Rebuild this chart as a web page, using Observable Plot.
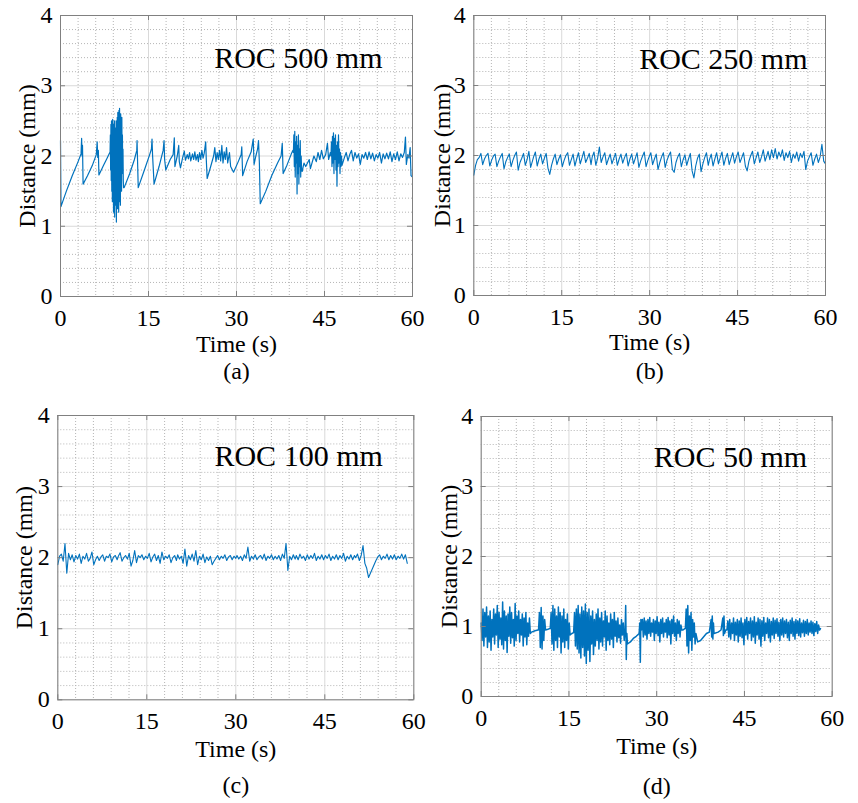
<!DOCTYPE html>
<html><head><meta charset="utf-8">
<script src="https://cdn.jsdelivr.net/npm/d3@7"></script>
<script src="https://cdn.jsdelivr.net/npm/@observablehq/plot@0.6"></script>
<style>
body{margin:0;background:#fff;}
#fig{position:relative;width:858px;height:803px;background:#fff;overflow:hidden;}
#fig svg{position:absolute;}
</style></head><body><div id="fig"></div>
<script>
// ---------- axis ticks ----------
const xTicks = [0, 15, 30, 45, 60];
const yTicks = [0, 1, 2, 3, 4];
const xMinorTicks = [3, 6, 9, 12, 18, 21, 24, 27, 33, 36, 39, 42, 48, 51, 54, 57];
const yMinorTicks = [0.2, 0.4, 0.6, 0.8, 1.2, 1.4, 1.6, 1.8, 2.2, 2.4, 2.6, 2.8, 3.2, 3.4, 3.6, 3.8];

// ---------- data: [t, y] points, or {t0, t1, v} evenly sampled runs ----------
// (a) ROC 500 mm
const roc500 = [
  [0, 2.22], [0.08, 1.28], [1.0, 1.5], [2.0, 1.72], [3.0, 1.92], [3.5, 2.03], [3.6, 2.25], [3.68, 2.0], [3.75, 2.15], [3.85, 1.6],
  [4.6, 1.72], [5.4, 1.86], [6.1, 2.02], [6.25, 2.2], [6.35, 1.98], [6.45, 2.08], [6.55, 1.73],
  [7.3, 1.86], [8.0, 1.98], [8.4, 2.05],
  {t0: 8.45, t1: 10.75, v: [2.05, 2.3, 1.8, 2.45, 1.65, 2.5, 1.5, 2.4, 1.35, 2.52, 1.6, 2.3, 1.2, 2.45, 1.45, 2.5, 1.13, 2.35, 1.55, 2.4,
    1.3, 2.5, 1.06, 2.3, 1.4, 2.55, 1.25, 2.62, 1.5, 2.45, 1.2, 2.65, 1.35, 2.68, 1.6, 2.5, 1.3, 2.6, 1.7, 2.4,
    1.5, 2.55, 1.75, 2.3, 1.8, 2.1, 1.65, 1.55]},
  [10.85, 1.55], [11.8, 1.75], [12.6, 1.95], [13.0, 2.08], [13.05, 2.22], [13.12, 1.98], [13.25, 1.55],
  [14.3, 1.8], [15.2, 2.02], [15.5, 2.1], [15.6, 2.24], [15.7, 2.0], [15.95, 1.6],
  [16.8, 1.85], [17.5, 2.08], [17.65, 2.22], [17.75, 1.95], [17.95, 1.8],
  [18.7, 1.95], [19.2, 2.02], [19.4, 2.26], [19.5, 1.85], [19.9, 2.0], [20.15, 2.15], [20.25, 1.92], [20.45, 1.83],
  [20.8, 1.97], [21.1, 2.07], [21.3, 1.94], [21.6, 2.02], [21.8, 1.96], [22.0, 2.05], [22.2, 1.93], [22.5, 2.03], [22.7, 1.95],
  [22.9, 2.06], [23.1, 1.94], [23.35, 2.02], [23.5, 1.92], [23.7, 2.05], [23.9, 1.95], [24.1, 2.08], [24.3, 1.97], [24.5, 2.04],
  [24.75, 2.2], [24.85, 1.95], [25.0, 1.68],
  [25.6, 1.85], [26.1, 2.0], [26.3, 2.12], [26.5, 1.92], [26.7, 2.05], [26.9, 1.95], [27.1, 2.08], [27.3, 1.93], [27.5, 2.15],
  [27.7, 1.9], [27.9, 2.06], [28.1, 1.95], [28.3, 2.12], [28.5, 1.9], [28.8, 2.05], [29.0, 1.85], [29.5, 1.77],
  [30.3, 1.92], [30.8, 2.02], [30.9, 2.13], [31.05, 1.72],
  [31.8, 1.92], [32.5, 2.06], [32.85, 2.24], [33.0, 1.88], [33.3, 2.0], [33.6, 2.1], [33.75, 2.22], [33.9, 1.9], [34.05, 1.32],
  [35.0, 1.5], [36.0, 1.72], [37.0, 1.9], [37.6, 2.0], [37.8, 2.18], [37.95, 1.75],
  [38.6, 1.87], [39.3, 2.02], [39.6, 2.08],
  {t0: 39.7, t1: 41.1, v: [2.05, 2.3, 1.85, 2.35, 1.7, 2.2, 1.9, 2.28, 1.46, 2.15, 1.75, 2.3, 1.6, 2.1, 1.85, 2.22, 1.7, 2.0, 1.8]},
  [41.2, 1.78], [41.5, 1.9], [41.8, 1.85], [42.4, 1.95], [42.6, 1.82], [43.2, 2.0], [43.6, 1.92], [43.9, 2.05], [44.2, 1.95],
  [44.5, 2.08], [44.8, 1.96], [45.2, 2.02], [45.5, 2.18], [45.7, 1.95], [46.0, 2.05],
  {t0: 46.1, t1: 47.9, v: [2.0, 2.2, 1.85, 2.28, 1.9, 2.33, 1.75, 2.25, 1.95, 2.3, 1.8, 2.15, 1.57, 2.2, 1.85, 2.3, 1.9, 2.1, 1.75, 2.05, 1.85, 2.0]},
  [48.0, 1.87], [48.4, 1.98], [48.7, 2.05], [49.0, 1.93], [49.3, 2.02], [49.6, 2.08], [49.9, 1.93], [50.2, 2.05], [50.5, 1.97],
  [50.8, 2.03], [51.1, 1.88], [51.4, 2.02], [51.7, 1.97], [52.0, 2.05], [52.3, 1.95], [52.6, 2.06], [52.9, 1.96], [53.2, 2.04],
  [53.5, 1.93], [53.8, 2.02], [54.1, 1.97], [54.4, 2.05], [54.7, 1.9], [55.0, 2.03], [55.3, 1.96], [55.6, 2.04], [55.9, 1.96],
  [56.2, 2.06], [56.5, 1.92], [56.8, 2.03], [57.1, 1.95], [57.4, 2.06], [57.7, 1.93], [58.0, 2.03], [58.3, 1.98], [58.6, 2.05],
  [58.8, 2.27], [58.95, 1.88], [59.2, 2.02], [59.4, 1.97], [59.6, 2.12], [59.75, 1.72], [60, 1.7]
];

// (b) ROC 250 mm
const roc250 = [
  {t0: 0, t1: 10, v: [1.72, 1.86, 1.94, 1.97, 2.03, 1.87, 1.95, 2.0, 2.03, 1.85, 1.93, 1.99, 2.02, 1.84, 1.92, 1.98, 2.03, 1.81, 1.91, 1.97,
    2.02, 1.84, 1.93, 2.0, 2.05, 1.79, 1.9, 1.96, 2.03, 1.86, 1.94, 2.06, 1.83, 1.92]},
  {t0: 10.2, t1: 20, v: [1.98, 2.05, 1.85, 1.95, 2.02, 1.88, 1.96, 2.03, 1.82, 1.73, 1.86, 1.95, 2.02, 1.87, 1.95, 2.01, 1.84, 1.93, 2.0, 2.04,
    1.86, 1.94, 2.02, 1.85, 1.95, 2.04, 1.88, 1.97, 2.06, 1.9, 1.96, 2.03, 1.87]},
  {t0: 20.2, t1: 30, v: [1.98, 2.05, 1.86, 1.96, 2.12, 1.9, 1.98, 2.04, 1.87, 1.95, 2.02, 1.88, 1.96, 2.03, 1.86, 1.95, 2.02, 1.89, 1.97, 2.03,
    1.85, 1.95, 2.02, 1.88, 1.96, 2.04, 1.83, 1.92, 1.99, 2.05, 1.84, 1.93, 2.0]},
  {t0: 30.2, t1: 40, v: [2.04, 1.87, 1.95, 2.02, 1.8, 1.9, 1.98, 2.04, 1.83, 1.93, 2.0, 2.05, 1.8, 1.76, 1.9, 1.98, 2.03, 1.84, 1.94, 2.01,
    1.86, 1.95, 2.03, 1.78, 1.68, 1.85, 1.96, 2.02, 1.77, 1.88, 1.97, 2.04, 1.86]},
  {t0: 40.2, t1: 50, v: [1.94, 2.02, 1.85, 1.95, 2.04, 1.88, 1.97, 2.05, 1.86, 1.96, 2.03, 1.87, 1.96, 2.04, 1.89, 1.98, 2.05, 1.9, 1.97, 2.04,
    1.85, 1.78, 1.92, 2.0, 2.06, 1.88, 1.97, 2.05, 1.9, 1.98, 2.08, 1.92, 2.0]},
  {t0: 50.2, t1: 60, v: [2.06, 1.94, 2.08, 1.97, 2.1, 1.95, 2.05, 1.98, 2.08, 1.93, 2.04, 1.97, 2.06, 1.9, 2.02, 1.96, 2.05, 1.92, 2.03, 1.97,
    2.06, 1.8, 1.92, 1.98, 2.04, 1.86, 1.95, 2.02, 1.9, 1.98, 2.16, 1.92, 1.88]}
];

// (c) ROC 100 mm
const roc100 = [
  {t0: 0, t1: 10, v: [1.9, 2.02, 2.05, 1.95, 2.2, 1.78, 2.06, 1.97, 2.04, 1.94, 2.03, 1.98, 2.05, 1.92, 2.02, 1.98, 2.06, 1.95, 1.99, 2.08,
    1.9, 1.97, 2.02, 1.96, 2.01, 2.04, 1.95, 2.02, 2.0, 2.05, 1.94, 2.01, 2.03, 1.97]},
  {t0: 10.2, t1: 20, v: [2.02, 2.07, 1.95, 2.0, 2.03, 1.98, 2.06, 1.88, 1.96, 2.1, 1.93, 2.03, 2.0, 2.04, 1.97, 2.02, 1.99, 2.06, 1.94, 2.01,
    2.05, 1.96, 2.03, 1.92, 2.08, 1.97, 2.02, 1.99, 2.04, 1.93, 2.0, 2.03, 1.96]},
  {t0: 20.2, t1: 30, v: [2.04, 1.98, 2.02, 1.92, 2.12, 1.88, 2.03, 1.97, 2.05, 1.95, 2.1, 1.9, 2.02, 1.97, 2.05, 1.93, 2.01, 1.96, 2.02, 1.9,
    1.95, 1.99, 2.03, 1.97, 2.02, 1.99, 2.04, 1.96, 2.01, 2.03, 1.97, 2.02, 1.99]},
  {t0: 30.2, t1: 40, v: [2.03, 1.98, 2.02, 1.96, 2.04, 1.99, 2.15, 1.95, 2.02, 1.98, 2.04, 1.97, 2.01, 2.03, 1.98, 2.05, 1.96, 2.02, 1.99, 2.04,
    1.97, 2.02, 1.98, 2.03, 1.96, 2.05, 1.99, 2.2, 1.82, 2.02, 1.97, 2.04, 1.98]},
  {t0: 40.2, t1: 50, v: [2.03, 1.97, 2.05, 1.99, 2.02, 1.96, 2.04, 1.98, 2.03, 1.99, 2.06, 1.96, 2.02, 1.98, 2.04, 1.97, 2.03, 1.99, 2.05, 1.96,
    2.02, 1.98, 2.04, 1.97, 2.03, 1.99, 2.06, 1.95, 2.02, 1.98, 2.04, 1.97, 2.03]},
  {t0: 50.2, t1: 58.9, v: [2.0, 2.05, 1.96, 2.03, 2.17, 1.92, 1.85, 1.72, 1.78, 1.84, 1.9, 1.96, 2.01, 2.04, 1.97, 2.02, 1.99, 2.05, 1.97, 2.03,
    1.98, 2.04, 1.97, 2.02, 1.99, 2.05, 1.98, 2.04, 1.92]}
];

// (d) ROC 50 mm
const roc50 = [
  {t0: 0, t1: 8.4, v: [1.05, 0.8, 1.25, 0.72, 1.2, 0.85, 1.28, 0.7, 1.15, 0.78, 1.22, 0.66, 1.1, 0.85, 1.25, 0.75, 1.18, 0.88, 1.3, 0.7,
    1.2, 0.82, 1.12, 0.74, 1.35, 0.68, 1.22, 0.8, 1.15, 0.63, 1.18, 0.86, 1.28, 0.76, 1.2, 0.84, 1.1, 0.72, 1.33, 0.8,
    1.15, 0.9, 1.22, 0.78, 1.1, 0.88, 1.18, 0.72, 1.12, 0.85, 1.2, 0.74, 1.05, 0.86, 1.12, 0.9]},
  [8.6, 0.92], [9.2, 0.94], [9.7, 0.95],
  {t0: 9.8, t1: 11.0, v: [0.95, 1.2, 0.7, 1.27, 0.68, 1.15, 0.8, 1.1, 0.95]},
  [11.4, 0.96], [11.7, 0.97],
  {t0: 11.8, t1: 15.2, v: [0.97, 1.2, 0.75, 1.3, 0.66, 1.25, 0.8, 1.15, 0.7, 1.28, 0.85, 1.2, 0.62, 1.15, 0.78, 1.25, 0.7, 1.1, 0.8, 1.18,
    0.68, 1.05, 0.88]},
  [15.5, 0.9], [15.7, 0.91],
  {t0: 15.8, t1: 24.6, v: [0.91, 1.2, 0.72, 1.25, 0.68, 1.3, 0.62, 1.18, 0.55, 1.28, 0.7, 1.22, 0.58, 1.32, 0.47, 1.2, 0.66, 1.25, 0.5, 1.15,
    0.75, 1.22, 0.6, 1.1, 0.72, 1.18, 0.8, 1.25, 0.68, 1.12, 0.78, 1.2, 0.72, 1.08, 0.85, 1.22, 0.66, 1.15, 0.8, 1.05,
    0.74, 1.18, 0.82, 1.1, 0.7, 1.2, 0.86, 1.08, 0.78, 1.12, 0.84, 1.02, 0.76, 1.1, 0.88, 1.05, 0.8, 0.95]},
  [24.7, 1.3], [24.8, 0.53], [24.9, 0.9], [25.0, 0.75], [25.5, 0.78], [26.0, 0.83], [26.5, 0.86], [27.0, 0.9],
  [27.1, 1.05], [27.2, 0.49], [27.3, 1.1],
  {t0: 27.4, t1: 34.3, v: [0.95, 1.1, 0.85, 1.12, 0.88, 1.08, 0.82, 1.1, 0.9, 1.13, 0.86, 1.05, 0.92, 1.1, 0.8, 1.08, 0.9, 1.14, 0.87, 1.06,
    0.78, 1.1, 0.9, 1.12, 0.85, 1.05, 0.92, 1.1, 0.84, 1.13, 0.88, 1.08, 0.75, 1.1, 0.9, 1.15, 0.86, 1.05, 0.8, 1.1,
    0.9, 1.08, 0.85, 1.02, 0.95]},
  [34.5, 0.95], [34.8, 0.97],
  {t0: 34.9, t1: 36.7, v: [0.97, 1.25, 0.72, 1.3, 0.62, 1.15, 0.8, 1.2, 0.66, 1.1, 0.85, 1.05, 0.75, 0.9]},
  [37.0, 0.78], [37.5, 0.8], [38.0, 0.85], [38.5, 0.9], [39.0, 0.92],
  [39.3, 1.1], [39.4, 0.85], [39.5, 1.15], [39.6, 0.82], [39.7, 1.05], [39.8, 0.9],
  [40.5, 0.92], [41.0, 0.95], [41.3, 1.12], [41.4, 0.87], [41.5, 1.15], [41.6, 0.9], [41.8, 0.95],
  {t0: 42.0, t1: 58.0, v: [0.95, 1.08, 0.85, 1.1, 0.82, 1.05, 0.9, 1.12, 0.8, 1.06, 0.88, 1.1, 0.78, 1.08, 0.86, 1.12, 0.84, 1.05, 0.74, 1.1,
    0.88, 1.13, 0.82, 1.07, 0.9, 1.12, 0.8, 1.08, 0.85, 1.14, 0.76, 1.06, 0.88, 1.12, 0.82, 1.1, 0.72, 1.08, 0.86, 1.13,
    0.8, 1.05, 0.9, 1.12, 0.84, 1.1, 0.78, 1.07, 0.88, 1.12, 0.83, 1.09, 0.9, 1.11, 0.86, 1.06, 0.8, 1.1, 0.88, 1.12,
    0.85, 1.08, 0.9, 1.1, 0.84, 1.06, 0.8, 1.09, 0.9, 1.12, 0.86, 1.07, 0.82, 1.1, 0.9, 1.08, 0.87, 1.11, 0.85, 1.05,
    0.91, 1.09, 0.86, 1.07, 0.9, 1.1, 0.88, 1.05, 0.92, 1.08, 0.9, 1.06, 0.87, 1.04, 0.93, 1.07, 0.9, 1.02, 0.95, 0.97]}
];

// ---------- helpers ----------
function expand(parts) {
  const out = [];
  for (const p of parts) {
    if (Array.isArray(p)) out.push({t: p[0], y: p[1]});
    else {
      const n = p.v.length;
      p.v.forEach((y, i) => out.push({t: p.t0 + (n > 1 ? i * (p.t1 - p.t0) / (n - 1) : 0), y}));
    }
  }
  return out;
}

const FONT = "'Liberation Serif', 'Times New Roman', Times, serif";
const BLUE = "#0072BD";
const AXIS = "#808080";

function panel(cfg) {
  const [L, T, W, H] = cfg.box;
  const [fl, fr, ft, fb] = cfg.frame;
  const data = expand(cfg.data);
  const tx = 5 * 60 / (fr - fl);   // tick length in data units (x)
  const ty = 5 * 4 / (fb - ft);    // tick length in data units (y)
  const svg = Plot.plot({
    width: W, height: H,
    marginLeft: fl - L, marginRight: L + W - fr, marginTop: ft - T, marginBottom: T + H - fb,
    style: {fontFamily: FONT, fontSize: "24px", background: "transparent", overflow: "visible", color: "#000"},
    x: {domain: [0, 60]},
    y: {domain: [0, 4]},
    marks: [
      Plot.ruleX(xMinorTicks, {stroke: "#b5b5b5", strokeDasharray: "1,2"}),
      Plot.ruleY(yMinorTicks, {stroke: "#b5b5b5", strokeDasharray: "1,2"}),
      Plot.ruleX(xTicks, {stroke: "#d9d9d9"}),
      Plot.ruleY(yTicks, {stroke: "#d9d9d9"}),
      Plot.line(data, {x: "t", y: "y", stroke: BLUE, strokeWidth: cfg.sw, strokeLinejoin: "round"}),
      Plot.ruleX(xTicks, {y1: 0, y2: ty, stroke: AXIS}),
      Plot.ruleX(xTicks, {y1: 4 - ty, y2: 4, stroke: AXIS}),
      Plot.ruleY(yTicks, {x1: 0, x2: tx, stroke: AXIS}),
      Plot.ruleY(yTicks, {x1: 60 - tx, x2: 60, stroke: AXIS}),
      Plot.frame({stroke: AXIS}),
      Plot.axisX(xTicks, {tickSize: 0, tickPadding: 12, label: null, fontSize: 24, tickFormat: d => String(d)}),
      Plot.axisY(yTicks, {tickSize: 0, tickPadding: 8, label: null, fontSize: 24, tickFormat: d => String(d)}),
      Plot.text([cfg.roc], {text: d => d, frameAnchor: "top-right", textAnchor: "end", lineAnchor: "middle", dx: cfg.rocDx, dy: cfg.rocDy, fontSize: 30}),
      Plot.text(["Time (s)"], {text: d => d, frameAnchor: "bottom", textAnchor: "middle", lineAnchor: "middle", dy: cfg.xlabDy, fontSize: 24}),
      Plot.text(["Distance (mm)"], {text: d => d, frameAnchor: "left", textAnchor: "middle", lineAnchor: "middle", rotate: -90, dx: cfg.ylabDx, fontSize: 24}),
      Plot.text([cfg.caption], {text: d => d, frameAnchor: "bottom", textAnchor: "middle", lineAnchor: "middle", dy: cfg.capDy, fontSize: 24})
    ]
  });
  svg.style.left = L + "px";
  svg.style.top = T + "px";
  document.getElementById("fig").appendChild(svg);
}

panel({data: roc500, roc: "ROC 500 mm", caption: "(a)", box: [0, 0, 429, 400], frame: [60, 412, 15, 296], sw: 1.2,
  rocDx: -30, rocDy: 42.4, xlabDy: 48.3, ylabDx: -32.7, capDy: 75.3});
panel({data: roc250, roc: "ROC 250 mm", caption: "(b)", box: [429, 0, 429, 400], frame: [473.3, 825, 15, 295], sw: 1.1,
  rocDx: -18, rocDy: 43.7, xlabDy: 47.3, ylabDx: -31, capDy: 76.3});
panel({data: roc100, roc: "ROC 100 mm", caption: "(c)", box: [0, 400, 429, 403], frame: [57.3, 413.3, 415, 699.3], sw: 1.1,
  rocDx: -31, rocDy: 41, xlabDy: 50, ylabDx: -33, capDy: 86});
panel({data: roc50, roc: "ROC 50 mm", caption: "(d)", box: [429, 400, 429, 403], frame: [480.7, 831.7, 416, 696], sw: 1.5,
  rocDx: -25, rocDy: 41, xlabDy: 50.3, ylabDx: -31.4, capDy: 90.3});
</script></body></html>
